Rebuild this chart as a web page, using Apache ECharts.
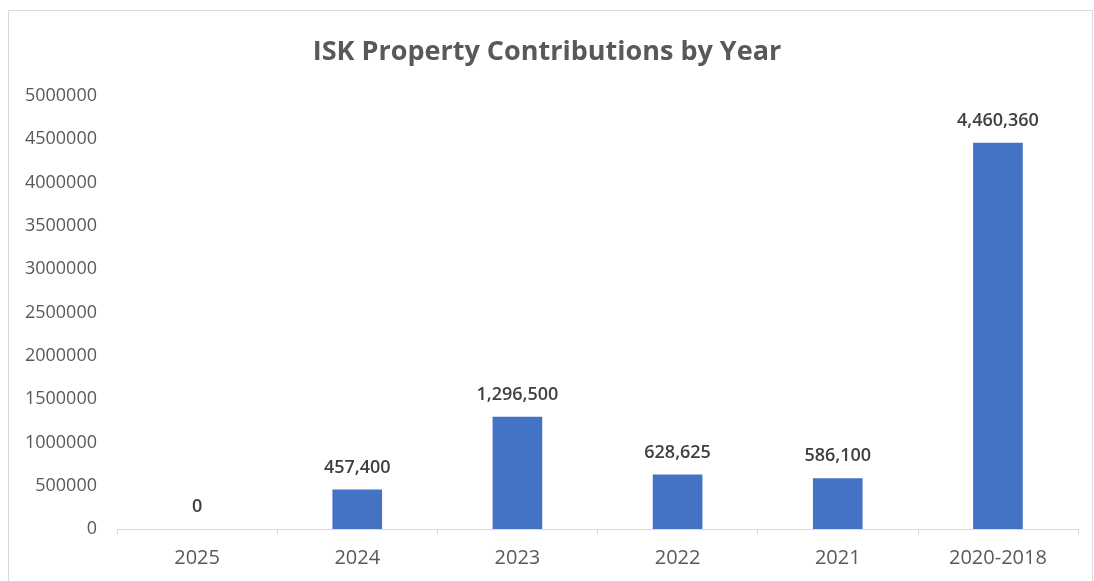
<!DOCTYPE html>
<html><head><meta charset="utf-8">
<script src="https://cdn.jsdelivr.net/npm/echarts@6/dist/echarts.min.js"></script>
<style>html,body{margin:0;padding:0;background:#fff}#c{width:1094px;height:581px}</style>
</head><body><div id="c"></div>
<script>
const categories = ['2025','2024','2023','2022','2021','2020-2018'];
const values = [0, 457400, 1296500, 628625, 586100, 4460360];
const yTicks = {min: 0, max: 5000000, interval: 500000};
const titleText = 'ISK Property Contributions by Year';

const chart = echarts.init(document.getElementById('c'));
chart.setOption({
  animation: false,
  backgroundColor: '#fff',
  graphic: [{type:'rect', shape:{x:8.5,y:10.5,width:1084,height:600}, style:{fill:'none', stroke:'#d9d9d9', lineWidth:1}, silent:true}],
  title: {text: titleText, left: 'center', top: 32, textStyle:{fontFamily:'Open Sans', fontSize:27, fontWeight:'bold', color:'#595959', lineHeight:30}},
  grid: {left:117, right:16, top:96, bottom:52, containLabel:false},
  xAxis: {type:'category', data: categories,
    axisLine:{lineStyle:{color:'#d9d9d9'}},
    axisTick:{show:true, length:6, lineStyle:{color:'#d9d9d9'}, alignWithLabel:false},
    axisLabel:{color:'#595959', fontFamily:'Open Sans', fontSize:20, margin:19}},
  yAxis: {type:'value', min:yTicks.min, max:yTicks.max, interval:yTicks.interval,
    axisLine:{show:false}, axisTick:{show:false}, splitLine:{show:false},
    axisLabel:{color:'#595959', fontFamily:'Open Sans', fontSize:18, margin:20, formatter: v => String(v)}},
  series: [{type:'bar', data: values, barWidth:'31%', itemStyle:{color:'#4472c4'},
    label:{show:true, position:'top', distance:13, color:'#404040', fontFamily:'Open Sans', fontSize:18, fontWeight:600,
      formatter: p => p.value.toLocaleString('en-US')}}]
});
</script></body></html>
